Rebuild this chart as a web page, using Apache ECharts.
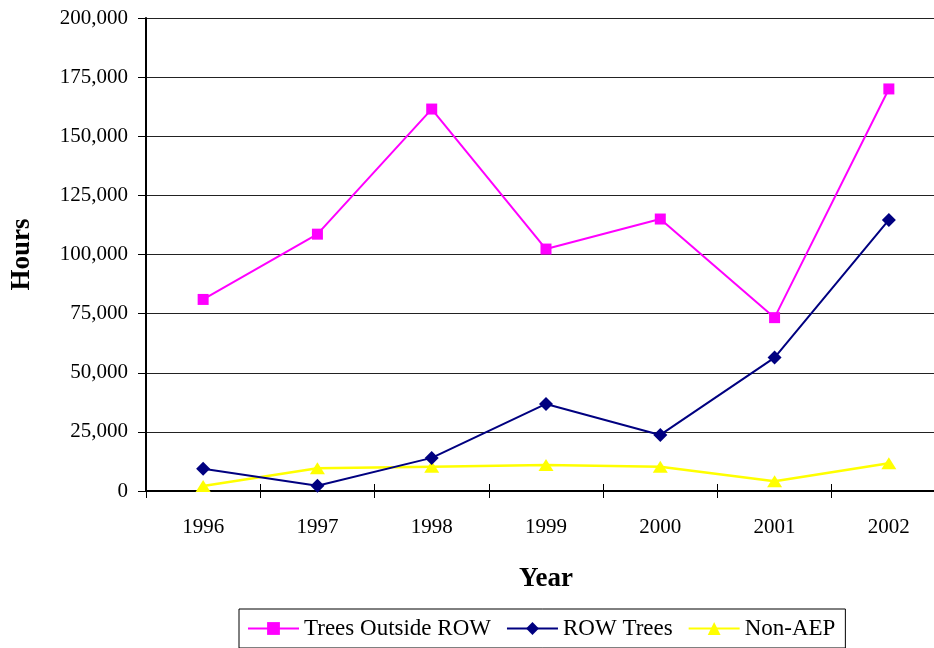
<!DOCTYPE html>
<html>
<head>
<meta charset="utf-8">
<script src="https://cdn.jsdelivr.net/npm/echarts@6/dist/echarts.min.js"></script>
<style>
  html, body { margin: 0; padding: 0; background: #fff; overflow: hidden; }
  /* the reference plot runs past the right edge, so the canvas is a bit wider than the window */
  #chart { width: 946px; height: 648px; }
</style>
</head>
<body>
<div id="chart"></div>
<script>
// data
const years = ['1996', '1997', '1998', '1999', '2000', '2001', '2002'];
const treesOutsideRow = [81000, 108600, 161500, 102300, 115000, 73300, 170000];
const rowTrees = [9400, 2200, 14000, 36800, 23700, 56400, 114600];
const nonAep = [2100, 9600, 10300, 11000, 10300, 4100, 11700];

const serif = '"Liberation Serif", "DejaVu Serif", serif';

const chart = echarts.init(document.getElementById('chart'), null, { renderer: 'canvas' });

chart.setOption({
  animation: false,
  backgroundColor: '#fff',
  textStyle: { fontFamily: serif, color: '#000' },
  grid: { left: 146, top: 18, width: 800, height: 473, containLabel: false },
  legend: {
    left: 239,
    top: 609,
    padding: [8, 10, 8, 8],
    itemGap: 15,
    itemWidth: 51,
    itemHeight: 16,
    borderColor: '#000',
    borderWidth: 1,
    textStyle: { fontFamily: serif, fontSize: 23, color: '#000' },
    data: ['Trees Outside ROW', 'ROW Trees', 'Non-AEP']
  },
  xAxis: [
    {
      type: 'category',
      data: years,
      boundaryGap: true,
      name: 'Year',
      nameLocation: 'middle',
      nameGap: 75,
      nameTextStyle: { fontFamily: serif, fontSize: 27, fontWeight: 'bold', color: '#000' },
      axisLine: { lineStyle: { color: '#000', width: 2 } },
      axisTick: { show: true, length: 7, lineStyle: { color: '#000', width: 1 } },
      axisLabel: { fontFamily: serif, fontSize: 21, color: '#000', margin: 26 },
      splitLine: { show: false }
    },
    {
      // copy of the bottom axis, only to make the ticks cross the axis line
      type: 'category',
      data: years,
      position: 'bottom',
      boundaryGap: true,
      axisLine: { show: false },
      axisTick: { show: true, inside: true, length: 7, lineStyle: { color: '#000', width: 1 } },
      axisLabel: { show: false },
      splitLine: { show: false }
    }
  ],
  yAxis: {
    type: 'value',
    min: 0,
    max: 200000,
    interval: 25000,
    name: 'Hours',
    nameLocation: 'middle',
    nameGap: 110,
    nameTextStyle: { fontFamily: serif, fontSize: 27, fontWeight: 'bold', color: '#000' },
    axisLine: { show: true, lineStyle: { color: '#000', width: 2 } },
    axisTick: { show: true, length: 8, lineStyle: { color: '#000', width: 1 } },
    axisLabel: {
      fontFamily: serif,
      fontSize: 21,
      color: '#000',
      margin: 18,
      formatter: v => v.toLocaleString('en-US')
    },
    splitLine: { show: true, lineStyle: { color: '#222', width: 1 } }
  },
  series: [
    {
      name: 'Trees Outside ROW',
      type: 'line',
      data: treesOutsideRow,
      color: '#ff00ff',
      symbol: 'rect',
      symbolSize: 11,
      lineStyle: { color: '#ff00ff', width: 2 },
      itemStyle: { color: '#ff00ff' },
      z: 3
    },
    {
      name: 'ROW Trees',
      type: 'line',
      data: rowTrees,
      color: '#000080',
      symbol: 'diamond',
      symbolSize: [14, 14],
      lineStyle: { color: '#000080', width: 2 },
      itemStyle: { color: '#000080' },
      z: 2
    },
    {
      name: 'Non-AEP',
      type: 'line',
      data: nonAep,
      color: '#ffff00',
      symbol: 'triangle',
      symbolSize: [15, 12],
      lineStyle: { color: '#ffff00', width: 2.5 },
      itemStyle: { color: '#ffff00' },
      z: 1
    }
  ]
});
</script>
</body>
</html>
